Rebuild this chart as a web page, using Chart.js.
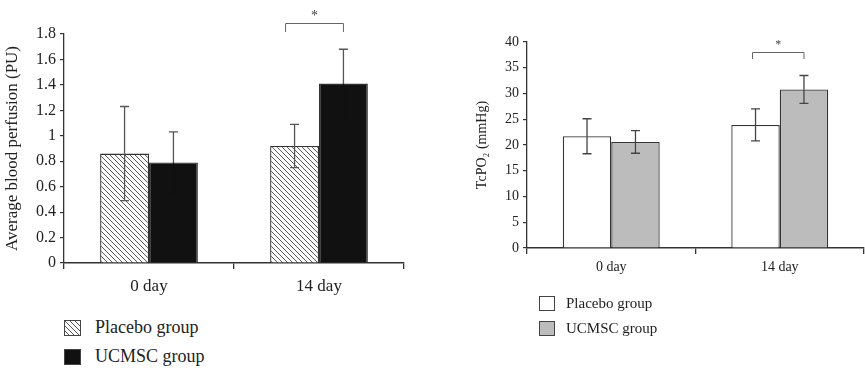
<!DOCTYPE html>
<html>
<head>
<meta charset="utf-8">
<script src="https://cdn.jsdelivr.net/npm/chart.js@4/dist/chart.umd.min.js"></script>
<style>
  body { margin:0; width:865px; height:371px; background:#fff; position:relative; overflow:hidden;
         font-family:"Liberation Serif", serif; color:#222; }
  .box { position:absolute; top:0; height:300px; }
  .leg { position:absolute; display:flex; align-items:center; white-space:nowrap; }
  .sw { box-sizing:border-box; border:1px solid #444; }
</style>
</head>
<body>
<div class="box" style="left:0;width:420px"><canvas id="perfusion"></canvas></div>
<div class="box" style="left:460px;width:405px"><canvas id="tcpo2"></canvas></div>

<div class="leg" style="left:64px;top:317px;font-size:18px">
  <div class="sw" style="width:17px;height:16px;margin-right:14px;background:repeating-linear-gradient(45deg,#fff 0 2.5px,#555 2.5px 3.5px)"></div>Placebo group
</div>
<div class="leg" style="left:64px;top:346px;font-size:18px">
  <div class="sw" style="width:17px;height:16px;margin-right:14px;background:#111"></div>UCMSC group
</div>
<div class="leg" style="left:539px;top:295px;font-size:15px">
  <div class="sw" style="width:16px;height:15px;margin-right:11px;background:#fff"></div>Placebo group
</div>
<div class="leg" style="left:539px;top:320px;font-size:15px">
  <div class="sw" style="width:16px;height:15px;margin-right:11px;background:#bcbcbc"></div>UCMSC group
</div>

<script>
const categories = ['0 day', '14 day'];
const seriesNames = ['Placebo group', 'UCMSC group'];

// left panel: average blood perfusion (PU)
const perfusionPlacebo = [0.86, 0.92];
const perfusionPlaceboErr = [0.37, 0.17];
const perfusionUcmsc = [0.79, 1.41];
const perfusionUcmscErr = [0.24, 0.27];
const perfusionTicks = [0, 0.2, 0.4, 0.6, 0.8, 1, 1.2, 1.4, 1.6, 1.8];

// right panel: TcPO2 (mmHg)
const tcpo2Placebo = [21.7, 23.9];
const tcpo2PlaceboErr = [3.4, 3.1];
const tcpo2Ucmsc = [20.6, 30.8];
const tcpo2UcmscErr = [2.2, 2.7];
const tcpo2Ticks = [0, 5, 10, 15, 20, 25, 30, 35, 40];

// diagonal hatch for the placebo bars on the left
function hatch() {
  const c = document.createElement('canvas');
  c.width = 5; c.height = 5;
  const g = c.getContext('2d');
  g.fillStyle = '#fff';
  g.fillRect(0, 0, 5, 5);
  g.strokeStyle = '#444';
  g.lineWidth = 0.9;
  g.beginPath();
  g.moveTo(-1, -1); g.lineTo(6, 6);
  g.moveTo(-1, 4); g.lineTo(1, 6);
  g.moveTo(4, -1); g.lineTo(6, 1);
  g.stroke();
  return g.createPattern(c, 'repeat');
}

const errorBars = {
  id: 'errorBars',
  afterDatasetsDraw(chart, args, opts) {
    const { ctx, scales: { y } } = chart;
    ctx.save();
    ctx.lineWidth = 1.3;
    chart.data.datasets.forEach((ds, i) => {
      chart.getDatasetMeta(i).data.forEach((bar, j) => {
        const v = ds.data[j], e = ds.errors[j];
        const t = y.getPixelForValue(v + e), b = y.getPixelForValue(v - e);
        ctx.strokeStyle = opts.color;
        ctx.beginPath();
        ctx.moveTo(bar.x, t); ctx.lineTo(bar.x, bar.y);
        ctx.moveTo(bar.x - 4.5, t); ctx.lineTo(bar.x + 4.5, t);
        ctx.stroke();
        // lower half sits inside the bar
        ctx.strokeStyle = ds.errInside || opts.color;
        ctx.beginPath();
        ctx.moveTo(bar.x, bar.y); ctx.lineTo(bar.x, b);
        ctx.moveTo(bar.x - 4.5, b); ctx.lineTo(bar.x + 4.5, b);
        ctx.stroke();
      });
    });
    ctx.restore();
  }
};

const bracket = {
  id: 'bracket',
  afterDraw(chart, args, opts) {
    const { ctx, chartArea } = chart;
    const x1 = chart.getDatasetMeta(0).data[opts.category].x + opts.shift;
    const x2 = chart.getDatasetMeta(1).data[opts.category].x;
    const yy = chartArea.top - opts.gap;
    ctx.save();
    ctx.strokeStyle = '#666';
    ctx.lineWidth = 1;
    ctx.beginPath();
    ctx.moveTo(x1, yy + opts.drop); ctx.lineTo(x1, yy + 0.5);
    ctx.lineTo(x2, yy + 0.5); ctx.lineTo(x2, yy + opts.drop);
    ctx.stroke();
    ctx.fillStyle = '#444';
    ctx.font = opts.font + 'px "Liberation Serif"';
    ctx.textAlign = 'center';
    ctx.textBaseline = 'middle';
    ctx.fillText('*', (x1 + x2) / 2, yy - 7);
    ctx.restore();
  }
};

function makeChart(id, cfg) {
  return new Chart(document.getElementById(id), {
    type: 'bar',
    data: {
      labels: categories,
      datasets: [
        { label: seriesNames[0], data: cfg.a, errors: cfg.aErr, backgroundColor: cfg.colors[0],
          borderColor: '#333', borderWidth: 1.3, categoryPercentage: 0.575, barPercentage: 1 },
        { label: seriesNames[1], data: cfg.b, errors: cfg.bErr, backgroundColor: cfg.colors[1],
          errInside: cfg.errInside, borderColor: '#333', borderWidth: 1.3,
          categoryPercentage: 0.575, barPercentage: 1 }
      ]
    },
    options: {
      responsive: true,
      maintainAspectRatio: false,
      animation: false,
      layout: { padding: cfg.padding },
      plugins: {
        legend: { display: false },
        tooltip: { enabled: false },
        errorBars: { color: cfg.errColor },
        bracket: cfg.bracket
      },
      scales: {
        x: {
          afterFit: s => { s.height = cfg.xHeight; },
          grid: { offset: true, drawOnChartArea: false, tickLength: 6, color: '#333', lineWidth: 1.3 },
          border: { color: '#333', width: 1.6 },
          ticks: { color: '#222', padding: cfg.xPad, font: { family: 'Liberation Serif', size: cfg.font } }
        },
        y: {
          min: 0, max: cfg.max,
          afterFit: s => { s.width = cfg.yWidth; },
          afterBuildTicks: s => { s.ticks = cfg.ticks.map(v => ({ value: v })); },
          grid: { drawOnChartArea: false, tickLength: 4, color: '#333', lineWidth: 1.2 },
          border: { color: '#333', width: 1.3 },
          ticks: { color: '#222', padding: 4, font: { family: 'Liberation Serif', size: cfg.tickFont },
                   callback: v => String(+v.toFixed(1)) },
          title: { display: true, text: cfg.title, color: '#222', padding: { top: cfg.titlePad, bottom: 0 },
                   font: { family: 'Liberation Serif', size: cfg.font } }
        }
      }
    },
    plugins: [errorBars, bracket]
  });
}

makeChart('perfusion', {
  a: perfusionPlacebo, aErr: perfusionPlaceboErr,
  b: perfusionUcmsc, bErr: perfusionUcmscErr,
  ticks: perfusionTicks, max: 1.8,
  colors: [hatch(), '#111'], errColor: '#555', errInside: '#111',
  title: 'Average blood perfusion (PU)',
  padding: { top: 34, right: 16, left: 0, bottom: 0 },
  xHeight: 37, yWidth: 64, xPad: 7, font: 17, tickFont: 16, titlePad: 2,
  bracket: { category: 1, shift: -9, gap: 11, drop: 9, font: 14 }
});

makeChart('tcpo2', {
  a: tcpo2Placebo, aErr: tcpo2PlaceboErr,
  b: tcpo2Ucmsc, bErr: tcpo2UcmscErr,
  ticks: tcpo2Ticks, max: 40,
  colors: ['#fff', '#bcbcbc'], errColor: '#444',
  title: 'TcPO\u2082 (mmHg)',
  padding: { top: 42, right: 1, left: 0, bottom: 0 },
  xHeight: 52, yWidth: 67, xPad: 5, font: 14, tickFont: 14, titlePad: 14,
  bracket: { category: 1, shift: -3, gap: -10, drop: 7, font: 12 }
});
</script>
</body>
</html>
